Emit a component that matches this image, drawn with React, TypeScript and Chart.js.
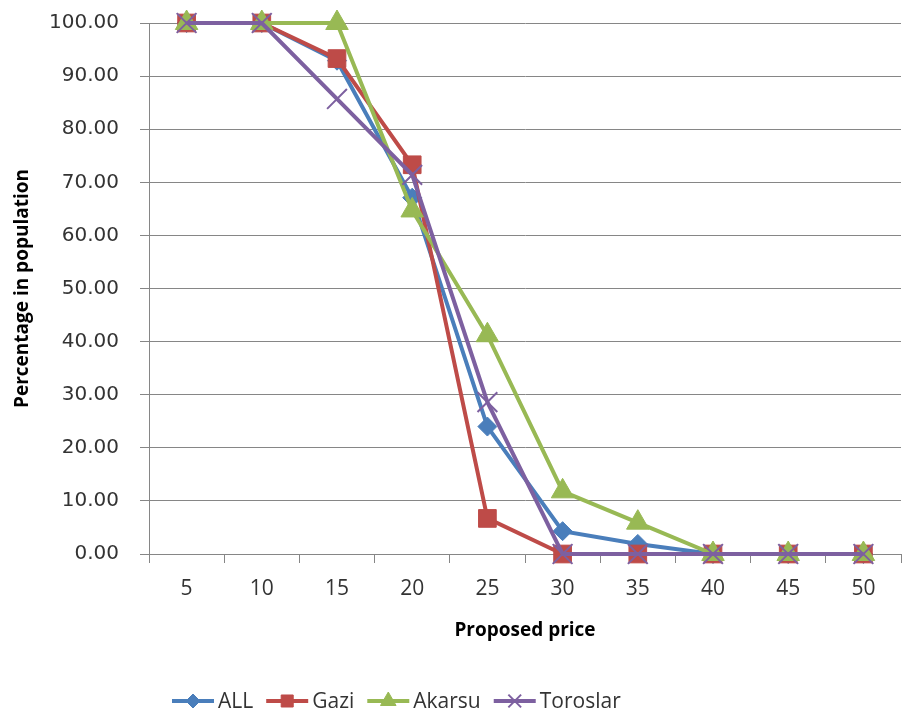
import React, { useEffect, useRef } from 'react';
import { Chart, registerables } from 'chart.js';
import { drawPoint } from 'chart.js/helpers';

Chart.register(...registerables);

// Proposed price categories (x axis)
const priceLabels = ['5', '10', '15', '20', '25', '30', '35', '40', '45', '50'];

// Share of respondents accepting each price, per group (%)
const allValues = [100, 100, 92.9, 67.1, 24.0, 4.3, 1.9, 0, 0, 0];
const gaziValues = [100, 100, 93.3, 73.3, 6.7, 0, 0, 0, 0, 0];
const akarsuValues = [100, 100, 100, 64.7, 41.2, 11.8, 5.9, 0, 0, 0];
const toroslarValues = [100, 100, 85.7, 71.4, 28.6, 0, 0, 0, 0, 0];

const seriesNames = ['ALL', 'Gazi', 'Akarsu', 'Toroslar'];

const gridGray = '#868686';
const textColor = '#333333';

// Legend drawn as a short line with the series marker in its middle
const lineLegend = {
  id: 'lineLegend',
  afterDraw(chart: any) {
    const ctx = chart.ctx as CanvasRenderingContext2D;
    const opts = chart.options.plugins.lineLegend;
    ctx.save();
    ctx.font = '21px "Open Sans"';
    ctx.textBaseline = 'middle';
    ctx.textAlign = 'left';
    let x = opts.startX;
    const y = opts.y;
    chart.data.datasets.forEach((ds: any, i: number) => {
      ctx.strokeStyle = ds.borderColor;
      ctx.lineWidth = 4;
      ctx.beginPath();
      ctx.moveTo(x, y);
      ctx.lineTo(x + 42, y);
      ctx.stroke();
      ctx.fillStyle = ds.pointBackgroundColor;
      ctx.strokeStyle = ds.pointBorderColor;
      ctx.lineWidth = ds.pointBorderWidth;
      drawPoint(ctx, {
        pointStyle: ds.pointStyle,
        radius: opts.markerRadius[i],
        borderWidth: ds.pointBorderWidth,
        rotation: 0,
      } as any, x + 21, y);
      ctx.fillStyle = textColor;
      const label = ds.label as string;
      ctx.fillText(label, x + 46, y + 1);
      x += 46 + ctx.measureText(label).width + 13;
    });
    ctx.restore();
  },
};

export default function App() {
  const canvasRef = useRef<HTMLCanvasElement | null>(null);

  useEffect(() => {
    if (!canvasRef.current) return;
    document.body.style.margin = '0';
    document.body.style.overflow = 'hidden';
    const makeSeries = (
      label: string,
      data: number[],
      color: string,
      pointStyle: string,
      radius: number,
      borderWidth: number,
      order: number,
    ) => ({
      label,
      data,
      borderColor: color,
      backgroundColor: color,
      pointBackgroundColor: color,
      pointBorderColor: color,
      pointStyle,
      pointRadius: radius,
      pointBorderWidth: borderWidth,
      borderWidth: 4,
      tension: 0,
      order,
      clip: false,
    });

    const chart = new Chart(canvasRef.current, {
      type: 'line',
      data: {
        labels: priceLabels,
        datasets: [
          makeSeries(seriesNames[0], allValues, '#4A7EBB', 'rectRot', 9.5, 1, 4),
          makeSeries(seriesNames[1], gaziValues, '#BE4B48', 'rect', 12.5, 1, 3),
          makeSeries(seriesNames[2], akarsuValues, '#98B954', 'triangle', 13, 1, 2),
          makeSeries(seriesNames[3], toroslarValues, '#7D60A0', 'crossRot', 14, 2, 1),
        ] as any,
      },
      options: {
        animation: false,
        responsive: true,
        maintainAspectRatio: false,
        layout: { autoPadding: false, padding: { left: 0, right: 1, top: 23, bottom: 58 } },
        plugins: {
          legend: { display: false },
          tooltip: { enabled: false },
          lineLegend: {
            startX: 172,
            y: 701,
            markerRadius: [7, 8.5, 9, 9],
          },
        } as any,
        scales: {
          x: {
            offset: true,
            grid: {
              display: true,
              offset: true,
              drawOnChartArea: false,
              drawTicks: true,
              tickLength: 9,
              color: gridGray,
            },
            border: { display: true, color: gridGray, width: 1 },
            ticks: {
              color: textColor,
              font: { family: '"Open Sans"', size: 21 },
              padding: 13,
              maxRotation: 0,
              autoSkip: false,
            },
            title: {
              display: true,
              text: 'Proposed price',
              color: '#000000',
              font: { family: '"Open Sans"', size: 19, weight: 'bold' },
              padding: { top: 0, bottom: 12 },
            },
            afterFit(scale: any) {
              scale.height = 100;
              scale.paddingLeft = 0;
              scale.paddingRight = 0;
            },
          },
          y: {
            min: 0,
            max: 100,
            grid: {
              color: gridGray,
              drawTicks: true,
              tickLength: 9,
            },
            border: { display: true, color: gridGray, width: 1 },
            ticks: {
              stepSize: 10,
              color: textColor,
              font: { family: '"DejaVu Sans"', size: 20 },
              padding: 21,
              callback: (v: any) => Number(v).toFixed(2),
            },
            title: {
              display: true,
              text: 'Percentage in population',
              color: '#000000',
              font: { family: '"Open Sans"', size: 19, weight: 'bold' },
              padding: { top: 11, bottom: 0 },
            },
            afterFit(scale: any) {
              scale.width = 149;
              scale.paddingTop = 0;
              scale.paddingBottom = 0;
            },
          },
        },
      } as any,
      plugins: [lineLegend],
    });

    return () => chart.destroy();
  }, []);

  return (
    <div style={{ position: 'absolute', left: 0, top: 0, width: 902, height: 712, overflow: 'hidden', background: '#ffffff' }}>
      <canvas ref={canvasRef} style={{ display: 'block' }} />
    </div>
  );
}
